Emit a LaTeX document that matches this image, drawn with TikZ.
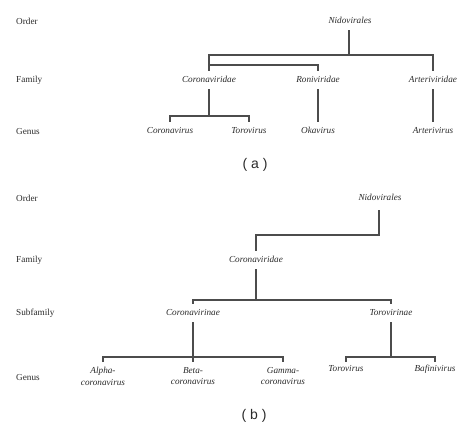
\documentclass[tikz,border=0pt]{standalone}
\usepackage{fontspec}
\setmainfont{Liberation Serif}
\newfontfamily\labsans{Liberation Sans}
\definecolor{txt}{HTML}{2A2A2A}
\definecolor{ln}{HTML}{4C4C4C}
\begin{document}
\begin{tikzpicture}[x=1pt,y=-1pt,
  taxon/.style={font=\fontsize{9.2}{11.5}\selectfont\itshape, text=txt, inner xsep=1pt, inner ysep=0pt, text height=7pt, text depth=2pt, minimum height=18pt, align=center},
  twoline/.style={font=\fontsize{9.2}{11.5}\selectfont\itshape, text=txt, inner xsep=1pt, inner ysep=5pt, align=center, anchor=north},
  rank/.style={font=\fontsize{9.2}{11}\selectfont, text=txt, anchor=west, inner sep=0pt},
  captext/.style={font=\labsans\fontsize{14}{15}\selectfont, text=txt},
  br/.style={draw=ln, line width=1.3pt}]
\useasboundingbox (0,0) rectangle (474,429);
% ---------- (a) ----------
\node[rank] (oA) at (16,21) {Order};
\node[rank] (fA) at (16,80) {Family};
\node[rank] (gA) at (16,131) {Genus};
\node[taxon] (nA) at (350,21) {Nidovirales};
\node[taxon] (cA) at (209,80) {Coronaviridae};
\node[taxon] (rA) at (318,80) {Roniviridae};
\node[taxon] (aA) at (433,80) {Arteriviridae};
\node[taxon] (coA) at (170,131) {Coronavirus};
\node[taxon] (toA) at (249,131) {Torovirus};
\node[taxon] (okA) at (318,131) {Okavirus};
\node[taxon] (arA) at (433,131) {Arterivirus};
\coordinate (jA1) at (349,55);
\coordinate (jA2) at (318,65);
\coordinate (jA3) at (209,116);
\draw[br] (nA.south -| jA1) -- (jA1);
\draw[br] (cA.north) -- (cA.north |- jA1) -- (aA.north |- jA1) -- (aA.north);
\draw[br] (cA.north |- jA2) -- (jA2) -- (rA.north);
\draw[br] (cA.south) -- (jA3);
\draw[br] (coA.north) -- (coA.north |- jA3) -- (toA.north |- jA3) -- (toA.north);
\draw[br] (rA.south) -- (okA.north);
\draw[br] (aA.south) -- (arA.north);
\node[captext] (capA) at (255,165) {( a )};
% ---------- (b) ----------
\node[rank] (oB) at (16,198) {Order};
\node[rank] (fB) at (16,260) {Family};
\node[rank] (sB) at (16,313) {Subfamily};
\node[rank] (gB) at (16,377) {Genus};
\node[taxon, minimum height=24pt] (nB) at (380,198) {Nidovirales};
\node[taxon] (cB) at (256,260) {Coronaviridae};
\node[taxon] (cvB) at (193,313) {Coronavirinae};
\node[taxon] (tvB) at (391,313) {Torovirinae};
\node[twoline] (alB) at (103,362) {Alpha-\\coronavirus};
\node[twoline] (beB) at (193,362) {Beta-\\coronavirus};
\node[twoline] (gaB) at (283,362) {Gamma-\\coronavirus};
\node[taxon, minimum height=14pt] (toB) at (346,369) {Torovirus};
\node[taxon, minimum height=14pt] (baB) at (435,369) {Bafinivirus};
\coordinate (jB1) at (379,235);
\coordinate (jB2) at (256,300);
\coordinate (jB3) at (193,357);
\coordinate (jB4) at (391,357);
\draw[br] (nB.south -| jB1) -- (jB1) -- (cB.north |- jB1) -- (cB.north);
\draw[br] (cB.south) -- (jB2);
\draw[br] (cvB.north) -- (cvB.north |- jB2) -- (tvB.north |- jB2) -- (tvB.north);
\draw[br] (cvB.south) -- (beB.north);
\draw[br] (alB.north) -- (alB.north |- jB3) -- (gaB.north |- jB3) -- (gaB.north);
\draw[br] (tvB.south) -- (jB4);
\draw[br] (toB.north) -- (toB.north |- jB4) -- (baB.north |- jB4) -- (baB.north);
\node[captext] (capB) at (254,416) {( b )};
\end{tikzpicture}
\end{document}
